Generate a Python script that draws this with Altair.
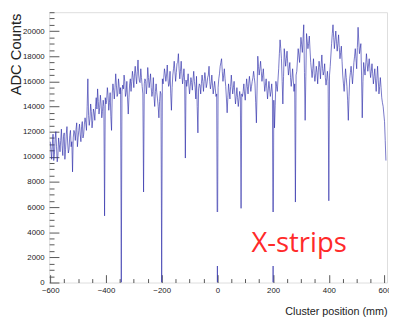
import altair as alt
import pandas as pd

# Cluster position (mm): main samples every 5 mm from -600 to 605
positions = list(range(-600, 606, 5))
# intermediate samples at -597.5, -592.5, ... 602.5
positions_mid = [p + 2.5 for p in range(-600, 601, 5)]

# ADC counts / 100 at the main samples
adc_hundreds = [
    112, 98, 118, 102, 120, 96, 115,                      # -600..-570
    104, 122, 101, 119, 106, 124, 103, 117, 108, 88,      # -565..-520
    121, 113, 127, 115, 126, 112, 128, 118,               # -515..-480
    131, 121, 162, 125, 142, 123, 138,                    # -475..-445
    129, 147, 154, 134, 149, 131, 145,                    # -440..-410
    53,                                                   # -405
    142, 155, 137, 151, 121, 158, 146, 166, 148, 162, 150,  # -400..-350
    0,                                                    # -345
    157, 165, 148, 160, 134, 158, 152, 168, 155, 172, 158, 177, 160, 170, 156,  # -340..-270
    72,                                                   # -265
    162, 150, 171, 155, 166, 148, 163, 140, 158, 146, 131, 152,  # -260..-205
    0,                                                    # -200
    158, 170, 160, 173, 156, 168, 137, 165, 176, 160, 174, 182, 162, 176, 158, 170,  # -195..-120
    99,                                                   # -115
    156, 166, 150, 163, 153, 168, 155, 164, 119, 158, 150, 165, 152, 167, 155, 163,
    172, 154, 165, 150, 160, 148,                         # -110..-5
    0,                                                    # 0
    162, 172, 178, 160, 170, 156, 135, 158, 146, 165, 150, 160, 142, 155, 140, 152,  # 5..80
    59,                                                   # 85
    148, 158, 145, 162, 150, 164, 152, 160, 168, 158, 127, 180, 165, 176, 160, 170,
    152, 162, 146, 160, 148, 158,                         # 90..195
    0,                                                    # 200
    123, 160, 152, 170, 193, 178, 142, 186, 172, 184, 165, 175, 156, 170, 152,  # 205..275
    64,                                                   # 280
    168, 186, 175, 195, 183, 205, 129, 198, 186, 196,     # 285..330
    175, 163, 178, 160, 172, 158, 176, 162, 181, 165, 174, 157, 168,  # 335..395
    65,                                                   # 400
    172, 190, 205, 186, 200, 184, 197, 178, 188,          # 405..445
    165, 152, 170, 156, 129, 162, 172, 158,               # 450..485
    175, 186, 170, 203, 182, 190, 131,                    # 490..520
    175, 165, 182, 168, 178, 163, 174,                    # 525..555
    158, 170, 152, 172, 150, 163, 147,                    # 560..590
    140, 128, 97,                                         # 595..605
]

# ADC counts / 100 at the intermediate samples
adc_mid_hundreds = [
    105, 110, 97, 114, 108, 101,                          # -597.5..-572.5
    110,                                                  # -567.5
    113, 109, 116, 98, 118, 111, 106, 121, 112,           # -562.5..-522.5
    115,                                                  # -517.5
    119, 122, 108, 121, 118, 124, 115,                    # -512.5..-482.5
    126,                                                  # -477.5
    127, 140, 133, 130, 136, 129,                         # -472.5..-447.5
    135,                                                  # -442.5
    140, 138, 144, 139, 142, 136,                         # -437.5..-412.5
    140, 147,                                             # -407.5, -402.5
    145, 149, 143, 132, 150, 153, 155, 157, 150, 156,     # -397.5..-352.5
    155, 152,                                             # -347.5, -342.5
    154, 160, 151, 146, 147, 162, 160, 163, 166, 164, 168, 165, 159, 163,  # -337.5..-272.5
    150, 158,                                             # -267.5, -262.5
    160, 158, 163, 160, 155, 152, 148, 152, 151, 140, 144,  # -257.5..-207.5
    150, 162,                                             # -202.5, -197.5
    163, 166, 165, 162, 158, 150, 155, 170, 168, 167, 175, 170, 168, 166, 163,  # -192.5..-122.5
    160, 161,                                             # -117.5, -112.5
    160, 157, 156, 159, 161, 160, 146, 140, 154, 157, 158, 160, 160, 162, 158,
    165, 160, 158, 157, 155, 154,                         # -107.5..-7.5
    150, 155,                                             # -2.5, 2.5
    166, 175, 168, 165, 162, 146, 147, 152, 156, 157, 155, 150, 148, 147, 146,  # 7.5..77.5
    148, 150,                                             # 82.5, 87.5
    152, 150, 154, 156, 158, 158, 156, 163, 163, 143, 154, 172, 170, 168, 165,
    160, 157, 154, 153, 154, 152,                         # 92.5..192.5
    150, 145,                                             # 197.5, 202.5
    141, 156, 161, 182, 186, 160, 164, 179, 178, 174, 170, 163, 162, 161,  # 207.5..272.5
    158, 165,                                             # 277.5, 282.5
    177, 181, 185, 189, 194, 167, 164, 192, 190,          # 287.5..327.5
    185, 169, 170, 166, 165, 167, 169, 171, 173, 170, 168, 163, 162,  # 332.5..392.5
    160, 165,                                             # 397.5, 402.5
    181, 198, 195, 193, 192, 190, 187, 183,               # 407.5..442.5
    176,                                                  # 447.5
    158, 161, 163, 145, 148, 167, 165,                    # 452.5..482.5
    166,                                                  # 487.5
    180, 178, 187, 192, 186, 165,                         # 492.5..517.5
    160,                                                  # 522.5
    170, 173, 175, 173, 170, 168,                         # 527.5..552.5
    166,                                                  # 557.5
    164, 161, 162, 161, 156, 155,                         # 562.5..587.5
    143, 134, 113,                                        # 592.5..602.5
]
assert len(adc_hundreds) == len(positions), (len(adc_hundreds), len(positions))
assert len(adc_mid_hundreds) == len(positions_mid), (len(adc_mid_hundreds), len(positions_mid))

x_major = [-600, -400, -200, 0, 200, 400, 600]
x_minor = [v for v in range(-600, 601, 50) if v not in x_major]
y_major = list(range(0, 20001, 2000))
y_minor = [v for v in range(0, 21501, 500) if v % 2000 != 0]

label_text = "X-strips"
label_pos = {"x": 122, "y": 2420}
box = {"x": -25, "x2": 485, "y": 1320, "y2": 5600}

df = pd.DataFrame({
    "pos": positions + positions_mid,
    "adc": [v * 100 for v in adc_hundreds] + [v * 100 for v in adc_mid_hundreds],
}).sort_values("pos").reset_index(drop=True)

font = "Liberation Sans, Arial, Helvetica"
xs = alt.Scale(domain=[-604, 609], nice=False, zero=False)
ys = alt.Scale(domain=[0, 21500], nice=False, zero=False)

x_axis = alt.Axis(values=x_major, orient="bottom", tickSize=8, offset=-8, domain=False,
                  grid=False, tickColor="#555555", labelColor="#222222", labelFont=font,
                  labelFontSize=8, labelPadding=4, labelFlush=False, format="d",
                  title="Cluster position (mm)", titleAnchor="end", titleFont=font,
                  titleFontSize=11, titleFontWeight="normal", titleColor="#222222",
                  titleAlign="right", titleX=345, titlePadding=12)
y_axis = alt.Axis(values=y_major, orient="left", tickSize=10, offset=-10, domain=False,
                  grid=False, tickColor="#555555", labelColor="#222222", labelFont=font,
                  labelFontSize=8, labelPadding=5, labelFlush=False, format="d",
                  title="ADC Counts", titleFont=font, titleFontSize=15,
                  titleFontWeight="normal", titleColor="#222222", titleAngle=270,
                  titleAlign="right", titleBaseline="bottom", titleX=-36, titleY=1)
x_axis_minor = alt.Axis(values=x_minor, orient="bottom", tickSize=4, offset=-4, domain=False,
                        grid=False, labels=False, tickColor="#555555", title=None)
y_axis_minor = alt.Axis(values=y_minor, orient="left", tickSize=5, offset=-5, domain=False,
                        grid=False, labels=False, tickColor="#555555", title=None)

base = alt.Chart(df)
line = base.mark_line(color="#2a2aa8", strokeWidth=0.75, opacity=0.85, clip=True).encode(
    x=alt.X("pos:Q", scale=xs, axis=x_axis),
    y=alt.Y("adc:Q", scale=ys, axis=y_axis),
)
minor = base.mark_point(opacity=0, size=1).encode(
    x=alt.X("pos:Q", scale=xs, axis=x_axis_minor),
    y=alt.Y("adc:Q", scale=ys, axis=y_axis_minor),
)
box_df = pd.DataFrame([box])
white = alt.Chart(box_df).mark_rect(color="white").encode(
    x=alt.X("x:Q", scale=xs, axis=None), x2="x2:Q",
    y=alt.Y("y:Q", scale=ys, axis=None), y2="y2:Q",
)
txt_df = pd.DataFrame([{"x": label_pos["x"], "y": label_pos["y"], "t": label_text}])
text = alt.Chart(txt_df).mark_text(font="Open Sans", fontSize=28, color="#ff2a2a",
                                   align="left", baseline="alphabetic").encode(
    x=alt.X("x:Q", scale=xs, axis=None),
    y=alt.Y("y:Q", scale=ys, axis=None),
    text="t:N",
)

chart = alt.layer(line, minor, white, text).resolve_axis(
    x="independent", y="independent"
).properties(
    width=345, height=276,
    padding={"left": 42, "top": 1, "right": 2, "bottom": 36},
    autosize=alt.AutoSizeParams(type="none"),
).configure_view(stroke="#b8b8b8", strokeWidth=1.3).configure(background="white")

chart.save("out.html", embed_options={"renderer": "svg", "actions": False})
